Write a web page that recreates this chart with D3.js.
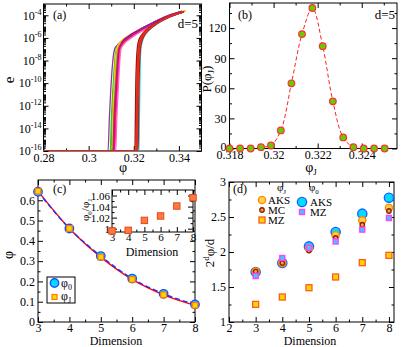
<!DOCTYPE html>
<html><head><meta charset="utf-8">
<script src="https://cdn.jsdelivr.net/npm/d3@7/dist/d3.min.js"></script>
<style>body{margin:0;background:#fff}svg{display:block}</style>
</head><body><svg id="c" width="407" height="347"></svg>
<script>
// ---------- Panel (a): e vs phi, d=5 ----------
const aTicksX=[0.28,0.30,0.32,0.34];
const aTicksYExp=[-16,-14,-12,-10,-8,-6,-4];
const curveA1=[[0.28,1e-16],[0.3086,1e-16],[0.3092,1e-13],[0.3097,1e-11],[0.3103,1e-9],[0.3115,1e-7],[0.3132,3e-7],[0.3163,1e-6],[0.3212,4e-6],[0.3278,2e-5],[0.3338,7e-5],[0.3405,2e-4]];
const curveA2=[[0.28,1e-16],[0.3096,1e-16],[0.3101,1e-13],[0.3106,1e-11],[0.3112,1e-9],[0.3122,1e-7],[0.3138,3.5e-7],[0.3168,1.1e-6],[0.3218,4.5e-6],[0.3282,2e-5],[0.3342,7.5e-5],[0.3412,2.2e-4]];
const curveA3=[[0.28,1e-16],[0.3103,1e-16],[0.3107,1e-13],[0.3111,1e-11],[0.3116,1e-9],[0.3124,1e-7],[0.3139,4e-7],[0.3170,1.3e-6],[0.3220,5e-6],[0.3286,2.3e-5],[0.3346,8.5e-5],[0.3428,2.5e-4]];
const curveA4=[[0.28,1e-16],[0.3108,1e-16],[0.3113,1e-13],[0.3118,1e-11],[0.3124,1e-9],[0.3133,1e-7],[0.3146,3e-7],[0.3175,1e-6],[0.3225,4.2e-6],[0.3288,1.9e-5],[0.3348,7e-5],[0.3418,2.1e-4]];
const curveA5=[[0.28,1e-16],[0.3106,1e-16],[0.3110,1e-13],[0.3115,1e-11],[0.3120,1e-9],[0.3128,1e-7],[0.3143,3.6e-7],[0.3172,1.2e-6],[0.3221,4.8e-6],[0.3285,2.2e-5],[0.3345,8e-5],[0.3430,2.5e-4]];
const curveA6=[[0.28,1e-16],[0.3110,1e-16],[0.3115,1e-13],[0.3121,1e-11],[0.3127,1e-9],[0.3135,1e-7],[0.3149,3.2e-7],[0.3177,1e-6],[0.3227,4e-6],[0.3290,1.9e-5],[0.3350,7e-5],[0.3420,2.1e-4]];
const curveA7=[[0.28,1e-16],[0.3112,1e-16],[0.3117,1e-13],[0.3122,1e-11],[0.3128,1e-9],[0.3137,1e-7],[0.3151,3e-7],[0.3180,1e-6],[0.3229,4e-6],[0.3292,1.8e-5],[0.3352,7e-5],[0.3422,2.1e-4]];
const curveA8=[[0.28,1e-16],[0.3115,1e-16],[0.3121,1e-13],[0.3126,1e-11],[0.3132,1e-9],[0.3140,1e-7],[0.3153,2.8e-7],[0.3182,9e-7],[0.3231,3.8e-6],[0.3294,1.8e-5],[0.3354,6.8e-5],[0.3422,2e-4]];
const curveA9=[[0.28,1e-16],[0.3120,1e-16],[0.3125,1e-13],[0.3130,1e-11],[0.3135,1e-9],[0.3143,1e-7],[0.3156,2.8e-7],[0.3185,9e-7],[0.3233,3.8e-6],[0.3296,1.7e-5],[0.3356,6.5e-5],[0.3422,2e-4]];
const curveA10=[[0.28,1e-16],[0.3113,1e-16],[0.3118,1e-13],[0.3123,1e-11],[0.3129,1e-9],[0.3136,1e-7],[0.3147,4e-7],[0.3174,1.3e-6],[0.3222,5e-6],[0.3284,2.2e-5],[0.3344,8e-5],[0.3415,2.3e-4]];
const curveA11=[[0.28,1e-16],[0.3099,1e-16],[0.3105,1e-13],[0.3110,1e-11],[0.3116,1e-9],[0.3126,1e-7],[0.3141,3.3e-7],[0.3170,1.1e-6],[0.3219,4.5e-6],[0.3283,2e-5],[0.3343,7.5e-5],[0.3414,2.2e-4]];
const curveB1=[[0.28,1e-16],[0.3205,1e-16],[0.3207,1e-13],[0.3209,1e-10],[0.3212,1e-8],[0.3216,1.5e-7],[0.3222,6e-7],[0.3236,2e-6],[0.3258,6e-6],[0.3290,1.7e-5],[0.3335,5.5e-5],[0.3412,2e-4]];
const curveB2=[[0.28,1e-16],[0.3208,1e-16],[0.3210,1e-13],[0.3212,1e-10],[0.3215,1e-8],[0.3219,1.6e-7],[0.3225,6.5e-7],[0.3239,2.1e-6],[0.3261,6.2e-6],[0.3293,1.8e-5],[0.3338,5.8e-5],[0.3418,2.1e-4]];
const curveB3=[[0.28,1e-16],[0.3210,1e-16],[0.3212,1e-13],[0.3214,1e-10],[0.3217,1e-8],[0.3221,1.5e-7],[0.3227,6e-7],[0.3240,2e-6],[0.3262,6e-6],[0.3294,1.7e-5],[0.3339,5.5e-5],[0.3420,2.1e-4]];
const curveB4=[[0.28,1e-16],[0.3213,1e-16],[0.3215,1e-13],[0.3217,1e-10],[0.3220,1e-8],[0.3224,1.4e-7],[0.3230,5.5e-7],[0.3243,1.9e-6],[0.3265,5.8e-6],[0.3297,1.7e-5],[0.3341,5.4e-5],[0.3420,2e-4]];
const curveB5=[[0.28,1e-16],[0.3211,1e-16],[0.3213,1e-13],[0.3215,1e-10],[0.3218,1e-8],[0.3222,1.5e-7],[0.3228,6e-7],[0.3241,2e-6],[0.3263,6e-6],[0.3295,1.7e-5],[0.3340,5.5e-5],[0.3418,2e-4]];
const curveB6=[[0.28,1e-16],[0.3216,1e-16],[0.3218,1e-13],[0.3220,1e-10],[0.3223,1e-8],[0.3227,1.4e-7],[0.3233,5.5e-7],[0.3246,1.9e-6],[0.3267,5.8e-6],[0.3299,1.7e-5],[0.3343,5.4e-5],[0.3422,2e-4]];
const curveB7=[[0.28,1e-16],[0.3223,1e-16],[0.3225,1e-13],[0.3227,1e-10],[0.3229,1e-8],[0.3232,1.3e-7],[0.3238,5e-7],[0.3250,1.8e-6],[0.3271,5.5e-6],[0.3302,1.6e-5],[0.3346,5.2e-5],[0.3424,2e-4]];
const curveB8=[[0.28,1e-16],[0.3219,1e-16],[0.3221,1e-13],[0.3223,1e-10],[0.3226,1e-8],[0.3230,1.4e-7],[0.3236,5.3e-7],[0.3248,1.8e-6],[0.3269,5.6e-6],[0.3300,1.7e-5],[0.3344,5.3e-5],[0.3422,2e-4]];
const aCurveList=[curveA1,curveA11,curveA2,curveA3,curveA5,curveA4,curveA10,curveA6,curveA7,curveA8,curveA9,curveB7,curveB5,curveB2,curveB4,curveB1,curveB3,curveB8,curveB6];
const aCurveColors=["#993399","#008b00","#22cc22","#ffd700","#ff9900","#2040ff","#9400d3","#a0522d","#ff0000","#ff00ff","#ff69b4","#00e5ee","#00c000","#ff8c00","#8b4513","#8b1a1a","#ff2020","#cc0000","#e03020"];

// ---------- Panel (b): distribution of phi_J ----------
const bPhi=[0.31800,0.31848,0.31896,0.31943,0.31988,0.32033,0.32081,0.32129,0.32176,0.32223,0.32269,0.32316,0.32362,0.32409,0.32456,0.32504];
const bP=[0,0,0,1.3,3,18,65,114,140,102,47,11,1.3,0,0,0];
const bTicksX=[0.318,0.320,0.322,0.324];
const bTicksY=[0,30,60,90,120];

// ---------- Panel (c): phi vs dimension ----------
const dims=[3,4,5,6,7,8];
const phi0=[0.642,0.461,0.325,0.214,0.139,0.0868];
const phiJ=[0.645,0.461,0.320,0.210,0.134,0.0823];
const ratio=[0.996,0.997,1.015,1.023,1.041,1.056];
const cTicksX=[3,4,5,6,7,8];
const cTicksY=[0,0.1,0.2,0.3,0.4,0.5,0.6];
const insetTicksY=[1.00,1.02,1.04,1.06];

// ---------- Panel (d): 2^d phi / d ----------
const dAKS0=[1.714,1.843,2.08,2.286,2.548,2.776];
const dAKSJ=[1.72,1.845,2.05,2.24,2.452,2.633];
const dMC=[1.72,1.843,2.02,2.20,2.39,2.586];
const dMZ0=[1.657,1.914,2.06,2.15,2.32,2.486];
const dMZJ=[1.252,1.357,1.49,1.643,1.848,1.952];
const dTicksX=[2,3,4,5,6,7,8];
const dTicksY=[1,1.5,2,2.5,3];

const serif='"Liberation Serif", "DejaVu Serif", "Times New Roman", Times, serif';
const svg=d3.select("#c");

function axes(x,y,o){
  const [x0,x1]=x.range(), [y0,y1]=y.range();
  const none=()=>"";
  const fs=o.fs||12;
  const add=(gen,tr,vals,size,fmt,pad)=>{
    const s=svg.append("g").attr("transform",tr)
      .call(gen.tickValues(vals).tickSizeInner(size).tickSizeOuter(0).tickPadding(pad).tickFormat(fmt));
    s.select(".domain").remove();
    s.attr("font-family",serif).attr("font-size",fs);
    s.selectAll("line").attr("stroke","#000");
    return s;
  };
  const bx=add(d3.axisBottom(x),`translate(0,${y0})`,o.xMajor,-5,o.xFmt,o.padX||2);
  add(d3.axisBottom(x),`translate(0,${y0})`,o.xMinor,-2.5,none,3);
  add(d3.axisTop(x),`translate(0,${y1})`,o.xMajor,-5,none,3);
  add(d3.axisTop(x),`translate(0,${y1})`,o.xMinor,-2.5,none,3);
  const ly=add(d3.axisLeft(y),`translate(${x0},0)`,o.yMajor,-5,o.yFmt,o.padY||3);
  add(d3.axisLeft(y),`translate(${x0},0)`,o.yMinor,-2.5,none,3);
  add(d3.axisRight(y),`translate(${x1},0)`,o.yMajor,-5,none,3);
  add(d3.axisRight(y),`translate(${x1},0)`,o.yMinor,-2.5,none,3);
  svg.append("rect").attr("x",x0).attr("y",y1).attr("width",x1-x0).attr("height",y0-y1)
    .attr("fill","none").attr("stroke","#000").attr("stroke-width",1);
  return {bx,ly};
}
function clip(id,x,y){
  const [x0,x1]=x.range(), [y0,y1]=y.range();
  svg.append("clipPath").attr("id",id).append("rect").attr("x",x0).attr("y",y1).attr("width",x1-x0).attr("height",y0-y1);
  return svg.append("g").attr("clip-path",`url(#${id})`);
}
const fmtG=d3.format("~g");
function txt(x,y,s,opt={}){
  const t=svg.append("text").attr("x",x).attr("y",y).attr("font-size",opt.fs||12)
    .attr("font-family",serif).attr("text-anchor",opt.anchor||"start").text(s);
  if(opt.rot) t.attr("transform",`rotate(-90,${x},${y})`);
  return t;
}
function rich(t,parts){
  parts.forEach(([s,sh,fs])=>{
    const sp=t.append("tspan").text(s);
    if(sh) sp.attr("dy",sh);
    if(fs) sp.attr("font-size",fs);
  });
  return t;
}

// ===== Panel (a) =====
{
  const x=d3.scaleLinear().domain([0.28,0.35]).range([43.5,201.5]);
  const y=d3.scaleLog().domain([1e-16,1e-3]).range([151,4]);
  const yMajor=aTicksYExp.map(e=>Math.pow(10,e));
  const yMinor=[];
  for(let e=-16;e<-3;e++) for(let k=1;k<10;k++){const v=k*Math.pow(10,e); if(!(k===1&&e%2===0)) yMinor.push(v);}
  const ax=axes(x,y,{xMajor:aTicksX,xMinor:[0.29,0.31,0.33],xFmt:fmtG,yMajor,yMinor,yFmt:()=>"",padY:2});
  ax.ly.selectAll(".tick text").each(function(d){
    const t=d3.select(this).text(null);
    t.append("tspan").text("10");
    t.append("tspan").attr("dy",-5).attr("font-size",8).text(Math.round(Math.log10(d)));
  });
  const g=clip("ca",x,y);
  const line=d3.line().x(d=>x(d[0])).y(d=>y(d[1])).curve(d3.curveMonotoneX);
  aCurveList.forEach((c,i)=>g.append("path").attr("d",line(c)).attr("fill","none")
    .attr("stroke",aCurveColors[i]).attr("stroke-width",1.3));
  txt(53,19,"(a)");
  txt(198,28,"d=5",{anchor:"end",fs:13});
  txt(123,172,"φ",{anchor:"middle",fs:14});
  txt(14,80,"e",{anchor:"middle",fs:15,rot:true});
}

// ===== Panel (b) =====
{
  const x=d3.scaleLinear().domain([0.318,0.3256]).range([229.5,397]);
  const y=d3.scaleLinear().domain([0,145]).range([148.5,3]);
  const ax=axes(x,y,{xMajor:bTicksX,xMinor:[0.319,0.321,0.323,0.325],xFmt:fmtG,yMajor:bTicksY,yMinor:[15,45,75,105,135],yFmt:fmtG});
  ax.ly.selectAll(".tick text").filter(d=>d===0).attr("y",-2);
  const g=clip("cb",x,y);
  const pts=bPhi.map((p,i)=>[p,bP[i]]);
  const line=d3.line().x(d=>x(d[0])).y(d=>y(d[1])).curve(d3.curveCatmullRom);
  g.append("path").attr("d",line(pts.slice(2,14))).attr("fill","none").attr("stroke","#ff2020")
    .attr("stroke-width",1).attr("stroke-dasharray","4,2.5");
  svg.append("g").selectAll("circle").data(pts).join("circle")
    .attr("cx",d=>x(d[0])).attr("cy",d=>y(d[1])).attr("r",3.3)
    .attr("fill","#66cc00").attr("stroke","#ff3030").attr("stroke-width",1.2);
  txt(238,19,"(b)");
  txt(395,19,"d=5",{anchor:"end",fs:13});
  rich(txt(311,172,"",{anchor:"middle",fs:14}),[["φ"],["J",3,9]]);
  rich(txt(211,79,"",{anchor:"middle",fs:13,rot:true}),[["P(φ"],["J",3,9],[")",-3]]);
}

// ===== Panel (c) =====
{
  const x=d3.scaleLinear().domain([3,8]).range([38,195]);
  const y=d3.scaleLinear().domain([0,0.7]).range([322,180]);
  axes(x,y,{xMajor:cTicksX,xMinor:[3.5,4.5,5.5,6.5,7.5],xFmt:fmtG,yMajor:cTicksY,yMinor:[0.05,0.15,0.25,0.35,0.45,0.55,0.65],yFmt:fmtG,padX:1});
  const l0=dims.map((d,i)=>[d,phi0[i]]), lJ=dims.map((d,i)=>[d,phiJ[i]]);
  const line=d3.line().x(d=>x(d[0])).y(d=>y(d[1])).curve(d3.curveMonotoneX);
  svg.append("path").attr("d",line(lJ)).attr("fill","none").attr("stroke","#ff0000").attr("stroke-width",1.4);
  svg.append("path").attr("d",line(l0)).attr("fill","none").attr("stroke","#2030ff").attr("stroke-width",1.4).attr("stroke-dasharray","5,3");
  svg.append("g").selectAll("circle").data(l0).join("circle")
    .attr("cx",d=>x(d[0])).attr("cy",d=>y(d[1])).attr("r",4.2)
    .attr("fill","#00ddff").attr("stroke","#1f4fff").attr("stroke-width",1.4);
  svg.append("g").selectAll("rect").data(lJ).join("rect")
    .attr("x",d=>x(d[0])-2.8).attr("y",d=>y(d[1])-2.8).attr("width",5.6).attr("height",5.6)
    .attr("fill","#ffd700").attr("stroke","#ff7a00").attr("stroke-width",1.2);
  txt(53,193,"(c)");
  txt(116,344.5,"Dimension",{anchor:"middle",fs:12});
  txt(13,255,"φ",{anchor:"middle",fs:14,rot:true});
  // legend
  svg.append("rect").attr("x",47).attr("y",277).attr("width",28).attr("height",26).attr("fill","#fff").attr("stroke","#000");
  svg.append("circle").attr("cx",54.5).attr("cy",283).attr("r",4.2).attr("fill","#00ddff").attr("stroke","#1f4fff").attr("stroke-width",1.4);
  svg.append("rect").attr("x",52).attr("y",294.5).attr("width",5).attr("height",5).attr("fill","#ffd700").attr("stroke","#ff7a00").attr("stroke-width",1.2);
  rich(txt(61,287,"",{fs:12}),[["φ"],["0",3,8]]);
  rich(txt(61,300,"",{fs:12}),[["φ"],["J",3,8]]);
  // inset
  const xi=d3.scaleLinear().domain([3,8]).range([112,193]);
  const yi=d3.scaleLinear().domain([0.994,1.07]).range([232,190]);
  svg.append("rect").attr("x",112).attr("y",190).attr("width",81).attr("height",42).attr("fill","#fff");
  axes(xi,yi,{xMajor:cTicksX,xMinor:[3.5,4.5,5.5,6.5,7.5],xFmt:fmtG,yMajor:insetTicksY,yMinor:[1.01,1.03,1.05],yFmt:fmtG,fs:11,padY:2,padX:1});
  svg.append("g").selectAll("rect").data(dims.map((d,i)=>[d,ratio[i]])).join("rect")
    .attr("x",d=>xi(d[0])-3.2).attr("y",d=>yi(d[1])-3.2).attr("width",6.4).attr("height",6.4)
    .attr("fill","#ff7a40").attr("stroke","#e04818").attr("stroke-width",1);
  txt(152,256,"Dimension",{anchor:"middle",fs:12});
  rich(txt(89,210,"",{anchor:"middle",fs:11,rot:true}),[["φ"],["0",3,7],["/φ",-3],["J",3,7]]);
}

// ===== Panel (d) =====
{
  const x=d3.scaleLinear().domain([2,8.19]).range([229,394]);
  const y=d3.scaleLinear().domain([1,3]).range([322,182]);
  axes(x,y,{xMajor:dTicksX,xMinor:[2.5,3.5,4.5,5.5,6.5,7.5],xFmt:fmtG,yMajor:dTicksY,yMinor:[1.25,1.75,2.25,2.75],yFmt:fmtG,padX:1});
  const g=svg.append("g");
  const P=(arr)=>dims.map((d,i)=>[d,arr[i]]);
  const circ=(data,r,fill,stroke,sw)=>g.append("g").selectAll("circle").data(data).join("circle")
    .attr("cx",d=>x(d[0])).attr("cy",d=>y(d[1])).attr("r",r).attr("fill",fill).attr("stroke",stroke).attr("stroke-width",sw);
  const sq=(data,s,fill,stroke,sw)=>g.append("g").selectAll("rect").data(data).join("rect")
    .attr("x",d=>x(d[0])-s/2).attr("y",d=>y(d[1])-s/2).attr("width",s).attr("height",s).attr("fill",fill).attr("stroke",stroke).attr("stroke-width",sw);
  circ(P(dAKS0),4.6,"#00ddff","#1f5fff",1.4);
  circ(P(dAKSJ),3.6,"#ffd050","#ff8c00",1.4);
  circ(P(dMC),2.2,"#ffa040","#8b2500",1.4);
  sq(P(dMZ0),5,"#40c8ff","#ff40ff",1.4);
  sq(P(dMZJ),6,"#ffd700","#ff5a20",1.3);
  txt(233,193,"(d)");
  rich(txt(277,191,"",{fs:11}),[["φ"],["J",2.5,7]]);
  rich(txt(309,191,"",{fs:11}),[["φ"],["0",2.5,7]]);
  svg.append("circle").attr("cx",262).attr("cy",200).attr("r",3.6).attr("fill","#ffd050").attr("stroke","#ff8c00").attr("stroke-width",1.4);
  svg.append("circle").attr("cx",262).attr("cy",210).attr("r",2.2).attr("fill","#ffa040").attr("stroke","#8b2500").attr("stroke-width",1.4);
  svg.append("rect").attr("x",259).attr("y",217).attr("width",6).attr("height",6).attr("fill","#ffd700").attr("stroke","#ff5a20").attr("stroke-width",1.3);
  svg.append("circle").attr("cx",302).attr("cy",202).attr("r",4.6).attr("fill","#00ddff").attr("stroke","#1f5fff").attr("stroke-width",1.4);
  svg.append("rect").attr("x",299.5).attr("y",209.5).attr("width",5).attr("height",5).attr("fill","#40c8ff").attr("stroke","#ff40ff").attr("stroke-width",1.4);
  txt(268,204,"AKS",{fs:11});
  txt(268,214,"MC",{fs:11});
  txt(268,224,"MZ",{fs:11});
  txt(310,206,"AKS",{fs:11});
  txt(310,216,"MZ",{fs:11});
  txt(310,344.5,"Dimension",{anchor:"middle",fs:12});
  rich(txt(214,253,"",{anchor:"middle",fs:13,rot:true}),[["2"],["d",-5,9],["φ/d",5]]);
}
</script></body></html>
